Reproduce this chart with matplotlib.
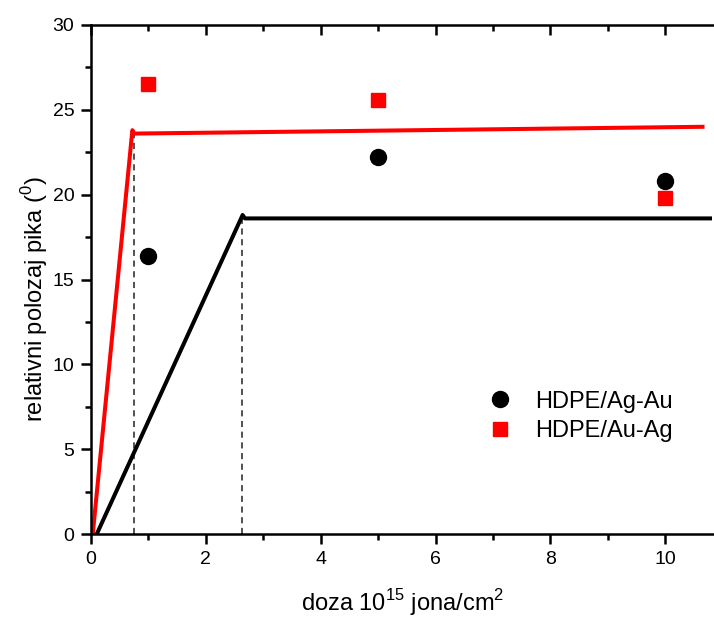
import numpy as np
import matplotlib.pyplot as plt
from matplotlib.ticker import MultipleLocator

plt.rcParams['font.family'] = ['Liberation Sans', 'DejaVu Sans']
plt.rcParams['mathtext.fontset'] = 'custom'
plt.rcParams['mathtext.rm'] = 'Liberation Sans'

# ── data ──────────────────────────────────────────────────────────────────────
dose = [1, 5, 10]
agau = [16.4, 22.2, 20.8]      # HDPE/Ag-Au (black circles)
auag = [26.5, 25.6, 19.8]      # HDPE/Au-Ag (red squares)

# guide lines (piecewise fits)
red_x = [0.03, 0.72, 0.75, 10.65]
red_y = [0.0, 23.8, 23.6, 24.0]
blk_x = [0.1, 2.64, 2.68, 10.78]
blk_y = [0.0, 18.8, 18.6, 18.6]

# dashed drop lines (x, top)
drops_x = [0.74, 2.63]
drops_top = [23.6, 18.6]

fig = plt.figure(figsize=(7.14, 6.17), dpi=100)
ax = fig.add_axes([0.1275, 0.1345, 0.8725, 0.825])

for x, top in zip(drops_x, drops_top):
    ax.plot([x, x], [0, top], color='#222222', lw=1.1, ls=(0, (4, 3)), zorder=1)

ax.plot(red_x, red_y, color='#ff0000', lw=2.9, zorder=2)
ax.plot(blk_x, blk_y, color='black', lw=2.9, zorder=2)

ax.plot(dose, agau, 'o', color='black', ms=11.5, ls='none', label='HDPE/Ag-Au', zorder=3)
ax.plot(dose, auag, 's', color='#ff0000', ms=10.5, ls='none', label='HDPE/Au-Ag', zorder=3)

ax.set_xlim(0, 10.85)
ax.set_ylim(0, 30)
ax.xaxis.set_major_locator(MultipleLocator(2))
ax.xaxis.set_minor_locator(MultipleLocator(1))
ax.yaxis.set_major_locator(MultipleLocator(5))
ax.yaxis.set_minor_locator(MultipleLocator(2.5))

ax.spines['right'].set_visible(False)
for s in ['left', 'bottom', 'top']:
    ax.spines[s].set_linewidth(1.8)

ax.tick_params(which='both', direction='out', width=1.8, labelsize=14, top=True, right=False)
ax.tick_params(which='major', length=7.5, pad=4.5)
ax.tick_params(which='minor', length=4)
# top ticks point inward
for t in ax.xaxis.get_major_ticks() + ax.xaxis.get_minor_ticks():
    t.tick2line.set_marker(3)

ax.set_xlabel(r'doza 10$^{\mathregular{15}}$ jona/cm$^{\mathregular{2}}$', fontsize=17)
ax.set_ylabel(r'relativni polozaj pika ($^{\mathregular{0}}$)', fontsize=17)
ax.xaxis.set_label_coords(0.5, -0.105)
ax.yaxis.set_label_coords(-0.066, 0.462)

ax.legend(loc='upper left', bbox_to_anchor=(0.618, 0.3), frameon=False, fontsize=17,
          handletextpad=0.9, labelspacing=0.3, borderaxespad=0, handlelength=1.2)

fig.savefig('out.png', dpi=100)
